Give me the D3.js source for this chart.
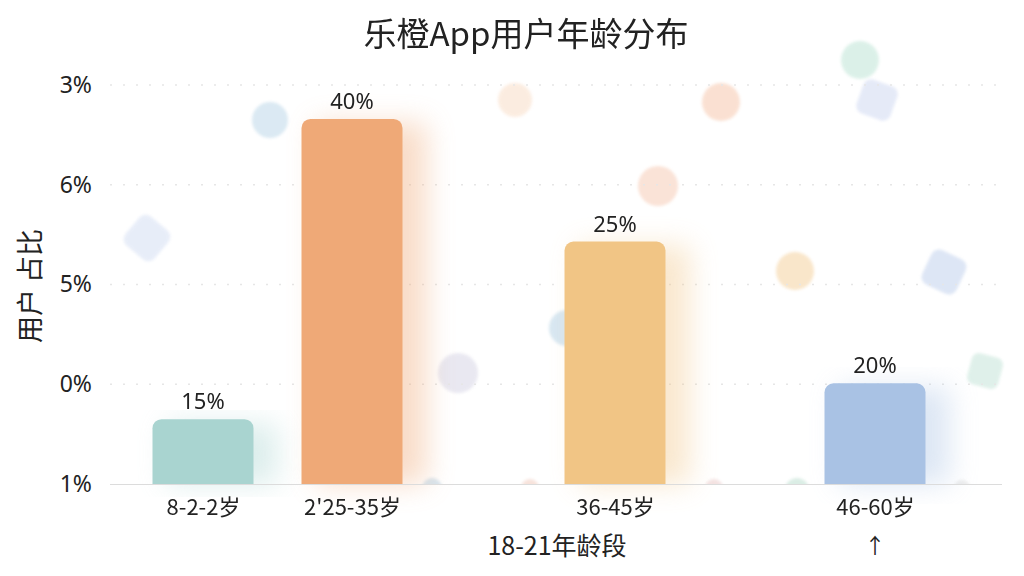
<!DOCTYPE html>
<html><head><meta charset="utf-8">
<script src="https://cdn.jsdelivr.net/npm/d3@7/dist/d3.min.js"></script>
<style>
body{margin:0;background:#fff;}
svg{display:block;font-family:"Noto Sans CJK SC","Noto Sans",sans-serif;}
</style>
</head><body>
<svg id="chart" width="1024" height="576"></svg>
<script>
// ---- data ----
const title = "乐橙App用户年龄分布";
const yTitle = "用户 占比";
const xTitle = "18-21年龄段";
const categories = ["8-2-2岁", "2'25-35岁", "36-45岁", "46-60岁"];
const barLabels = ["15%", "40%", "25%", "20%"];
// bar heights read against the (irregular) tick grid, in tick-step units
const barLevels = [0.65, 3.66, 2.43, 1.01];
const tickLabels = ["1%", "0%", "5%", "6%", "3%"];
const barColors = ["#a9d4d0", "#efa977", "#f1c585", "#a9c2e4"];

// ---- layout ----
const W = 1024, H = 576;
const plotLeft = 110, plotRight = 1002, plotTop = 85, plotBottom = 484;
const svg = d3.select("#chart");

const y = d3.scaleLinear().domain([0, tickLabels.length - 1]).range([plotBottom, plotTop]);
const x = d3.scaleOrdinal().domain(categories).range([203, 352, 615, 875]);
const barW = 101;

const defs = svg.append("defs");
defs.append("filter").attr("id", "glow").attr("x", "-80%").attr("y", "-20%").attr("width", "260%").attr("height", "140%")
  .append("feGaussianBlur").attr("stdDeviation", 14);
defs.append("filter").attr("id", "soft").attr("x", "-30%").attr("y", "-30%").attr("width", "160%").attr("height", "160%")
  .append("feGaussianBlur").attr("stdDeviation", 1.5);
defs.append("clipPath").attr("id", "plotClip").append("rect")
  .attr("x", 0).attr("y", 0).attr("width", W).attr("height", plotBottom);

// decorative background blobs
const decor = svg.append("g").attr("clip-path", "url(#plotClip)").attr("filter", "url(#soft)").attr("opacity", 0.8);
const blobs = [
  {cx:270, cy:120, r:18, c:"#d2e4f0", s:"c"},
  {cx:147, cy:238, r:19, c:"#e2e9f7", s:"q", a:40},
  {cx:515, cy:100, r:17, c:"#fbe8d9", s:"c"},
  {cx:721, cy:102, r:19, c:"#f9d9c7", s:"c"},
  {cx:658, cy:186, r:20, c:"#f9dccd", s:"c"},
  {cx:860, cy:60,  r:19, c:"#d3ede3", s:"c"},
  {cx:877, cy:100, r:18, c:"#dfe5f6", s:"q", a:20},
  {cx:795, cy:271, r:19, c:"#f8e0bd", s:"c"},
  {cx:944, cy:272, r:19, c:"#d5e0f3", s:"q", a:25},
  {cx:985, cy:371, r:16, c:"#d8ede5", s:"q", a:15},
  {cx:458, cy:373, r:20, c:"#e4e3ee", s:"c"},
  {cx:567, cy:328, r:18, c:"#cfe2ef", s:"c"},
  {cx:432, cy:488, r:10, c:"#cfe0ec", s:"c"},
  {cx:530, cy:488, r:9,  c:"#f5dcd3", s:"c"},
  {cx:714, cy:488, r:9,  c:"#f1dcdc", s:"c"},
  {cx:797, cy:490, r:12, c:"#d2e9df", s:"c"},
  {cx:962, cy:488, r:8,  c:"#e9e9e9", s:"c"}
];
blobs.forEach(b => {
  if (b.s === "c") {
    decor.append("circle").attr("cx", b.cx).attr("cy", b.cy).attr("r", b.r).attr("fill", b.c);
  } else {
    decor.append("rect").attr("x", -b.r).attr("y", -b.r).attr("width", 2*b.r).attr("height", 2*b.r)
      .attr("rx", b.r*0.45).attr("fill", b.c)
      .attr("transform", `translate(${b.cx},${b.cy}) rotate(${b.a})`);
  }
});

// gridlines
const grid = svg.append("g");
grid.selectAll("line").data(d3.range(1, tickLabels.length)).join("line")
  .attr("x1", plotLeft).attr("x2", plotRight)
  .attr("y1", d => y(d)).attr("y2", d => y(d))
  .attr("stroke", "#e6e6e6").attr("stroke-width", 1.5).attr("stroke-dasharray", "2 11");

// y axis (labels only)
const yAxis = d3.axisLeft(y).tickValues(d3.range(tickLabels.length))
  .tickFormat(i => tickLabels[i]).tickSize(0).tickPadding(0);
const gy = svg.append("g").attr("transform", "translate(92,0)").call(yAxis);
gy.select(".domain").remove();
gy.selectAll("text").attr("font-size", 23).attr("fill", "#222")
  .attr("font-family", '"Noto Sans","Noto Sans CJK SC",sans-serif');

// bar data
const bars = categories.map((c, i) => ({cat: c, level: barLevels[i], label: barLabels[i], color: barColors[i]}));

// glow behind bars
svg.append("g").selectAll("rect").data(bars).join("rect")
  .attr("x", d => x(d.cat) - barW/2 + 14).attr("width", barW + 10)
  .attr("y", d => y(d.level) + 4).attr("height", d => plotBottom - y(d.level) - 4)
  .attr("fill", d => d.color).attr("opacity", 0.4).attr("filter", "url(#glow)");

// bars
const barG = svg.append("g").attr("clip-path", "url(#plotClip)");
barG.selectAll("rect").data(bars).join("rect")
  .attr("x", d => x(d.cat) - barW/2).attr("width", barW)
  .attr("y", d => y(d.level)).attr("height", d => plotBottom - y(d.level) + 10)
  .attr("rx", 9).attr("fill", d => d.color);

// baseline
svg.append("line").attr("x1", plotLeft).attr("x2", plotRight)
  .attr("y1", plotBottom + 0.5).attr("y2", plotBottom + 0.5)
  .attr("stroke", "#dcdcdc").attr("stroke-width", 1.2);

// value labels
svg.append("g").selectAll("text").data(bars).join("text")
  .attr("x", d => x(d.cat)).attr("y", d => y(d.level) - 10)
  .attr("text-anchor", "middle").attr("font-size", 22).attr("fill", "#222")
  .attr("font-family", '"Noto Sans","Noto Sans CJK SC",sans-serif')
  .text(d => d.label);

// x axis labels
const xAxis = d3.axisBottom(x).tickSize(0).tickPadding(0);
const gx = svg.append("g").attr("transform", `translate(0,${plotBottom + 31})`).call(xAxis);
gx.select(".domain").remove();
gx.selectAll("text").attr("font-size", 22).attr("fill", "#222").attr("dy", 0)
  .attr("font-family", '"Noto Sans CJK SC",sans-serif');

// x title and arrow
svg.append("text").attr("x", 557).attr("y", 555).attr("text-anchor", "middle")
  .attr("font-size", 25).attr("fill", "#222").text(xTitle);
svg.append("text").attr("x", x(categories[3])).attr("y", 553).attr("text-anchor", "middle")
  .attr("font-size", 21).attr("fill", "#222").text("↑");

// y title
svg.append("text").attr("transform", "translate(40,286) rotate(-90)").attr("text-anchor", "middle")
  .attr("font-size", 27).attr("fill", "#222").text(yTitle);

// title
svg.append("text").attr("x", 526).attr("y", 46).attr("text-anchor", "middle")
  .attr("font-size", 33).attr("fill", "#222").text(title);
</script>
</body></html>
